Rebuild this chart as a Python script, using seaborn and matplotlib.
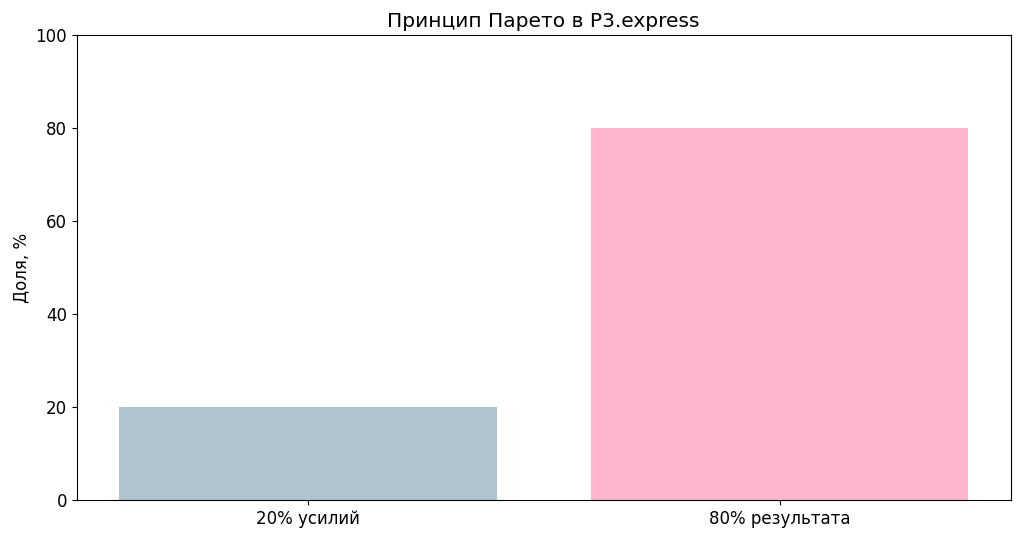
import matplotlib
matplotlib.use("Agg")
import matplotlib.pyplot as plt
import seaborn as sns

sns.set_style("ticks")
plt.rcParams["font.family"] = ["DejaVu Sans"]
plt.rcParams["font.size"] = 12
for key in ["text.color", "axes.labelcolor", "xtick.color", "ytick.color", "axes.edgecolor"]:
    plt.rcParams[key] = "black"

categories = ["20% усилий", "80% результата"]
values = [20, 80]
bar_colors = ["#AFC4CC", "#FFB6CC"]

fig, ax = plt.subplots(figsize=(10.24, 5.41), dpi=100)

sns.barplot(x=categories, y=values, hue=categories, palette=bar_colors,
            legend=False, width=0.8, saturation=1, linewidth=0, ax=ax)

ax.set_ylim(0, 100)
ax.set_xlim(-0.49, 1.49)
ax.set_ylabel("Доля, %")
ax.set_xlabel("")
ax.set_title("Принцип Парето в P3.express", fontsize=14.5)
ax.tick_params(labelsize=12)

fig.subplots_adjust(left=0.075, right=0.987, top=0.935, bottom=0.075)
fig.savefig("out.png", dpi=100)
